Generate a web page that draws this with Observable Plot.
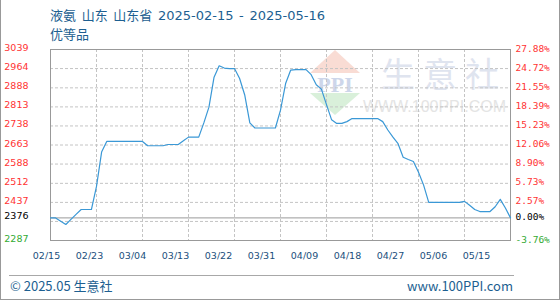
<!DOCTYPE html>
<html>
<head>
<meta charset="utf-8">
<script src="https://cdn.jsdelivr.net/npm/d3@7"></script>
<script src="https://cdn.jsdelivr.net/npm/@observablehq/plot@0.6"></script>
<style>
  html, body { margin: 0; padding: 0; background: #fff; }
  #wrap { position: relative; width: 560px; height: 300px; overflow: hidden; }
  #box { position: absolute; left: 0; top: 0; width: 558px; height: 299px;
         border: 1px solid #999; border-top: none; }
  .title { position: absolute; left: 50px; font-family: "DejaVu Sans", "Noto Sans CJK SC", sans-serif;
           font-size: 13px; color: #1d5f91; white-space: nowrap; line-height: 16px; word-spacing: 1.5px; }
  #foot-rule { position: absolute; left: 9px; top: 275px; width: 505px; height: 1px; background: #a8a8a8; }
  .foot { position: absolute; top: 277px; font-family: "Noto Sans CJK SC", sans-serif;
          font-size: 13px; color: #1d5f91; line-height: 18px; white-space: nowrap; }
  #mark, #chart { position: absolute; left: 0; top: 0; }
</style>
</head>
<body>
<div id="wrap">
  <div id="box"></div>
  <svg id="mark" width="560" height="300" viewBox="0 0 560 300">
    <!-- faint company watermark behind the plot -->
    <polygon points="335,50 310,73 360,73" fill="#f9dcd4"/>
    <text x="335" y="92" text-anchor="middle" font-family="Liberation Serif" font-size="22" font-weight="bold" fill="#cdd6ea">PPI</text>
    <polygon points="310,93 360,93 335,115" fill="#d9f0da"/>
    <text x="507" y="87" text-anchor="end" font-family="Noto Sans CJK SC" font-size="34" fill="#dfe4ef" letter-spacing="8">生意社</text>
    <text x="506" y="112" text-anchor="end" font-family="Liberation Sans" font-size="16" fill="#e4e4e4">WWW.100PPI.COM</text>
  </svg>
  <div id="chart"></div>
  <div class="title" style="top:8px">液氨 山东 山东省 2025-02-15 - 2025-05-16</div>
  <div class="title" style="top:27px">优等品</div>
  <div id="foot-rule"></div>
  <div class="foot" style="left:10px">© 2025.05 生意社</div>
  <div class="foot" style="right:47px">www.100PPI.com</div>
</div>
<script>
// Daily liquid ammonia price, Shandong, 2025-02-15 .. 2025-05-16 (yuan/ton)
const startDate = "2025-02-15";
const prices = [
  2376, 2376, 2363, 2350, 2370, 2390, 2409, 2409, 2409, 2500,
  2635, 2677, 2677, 2677, 2677, 2677, 2677, 2677, 2677, 2660,
  2660, 2660, 2660, 2665, 2665, 2665, 2680, 2694, 2694, 2694,
  2750, 2812, 2930, 2975, 2966, 2964, 2964, 2925, 2860, 2750,
  2730, 2730, 2730, 2730, 2730, 2800, 2905, 2958, 2960, 2960,
  2960, 2940, 2900, 2883, 2822, 2762, 2748, 2748, 2755, 2767,
  2767, 2767, 2767, 2767, 2767, 2755, 2722, 2694, 2668, 2615,
  2606, 2598, 2556, 2505, 2437, 2437, 2437, 2437, 2437, 2437,
  2437, 2441, 2426, 2409, 2401, 2401, 2401, 2420, 2449, 2415,
  2376
];

// Reference price for the percent axis
const basePrice = 2376;
const basePct = "0.00%";

// Axis extent
const yMin = 2287, yMax = 3039;
const yMinPct = "-3.76%";

// Tick labels above the reference price (left: price, right: change)
const upTicks = [3039, 2964, 2888, 2813, 2738, 2663, 2588, 2512, 2437];
const upPct = ["27.88%", "24.72%", "21.55%", "18.39%", "15.23%", "12.06%", "8.90%", "5.73%", "2.57%"];

// Horizontal dashed grid
const gridValues = [2362, 2437, 2512, 2588, 2663, 2738, 2813, 2888, 2964];

// Date labels along the bottom, and vertical grid every 9 days
const xLabels = ["02/15", "02/23", "03/04", "03/13", "03/22", "03/31", "04/09", "04/18", "04/27", "05/06", "05/15"];
const gridDays = [9, 18, 27, 36, 45, 54, 63, 72, 81];

const rows = prices.map((price, day) => ({day, price}));

const W = 560, H = 300, mL = 50, mR = 50, mT = 49, mB = 60;
const lastDay = prices.length - 1;
const pxPerDay = (W - mL - mR) / lastDay;
// date labels are spread evenly, 43px apart, starting just left of the frame
const xLabelPos = xLabels.map((_, i) => (-4 + 43 * i) / pxPerDay);

const red = "#ff3333", green = "#33aa33", ink = "#1a4f7c";

const chart = Plot.plot({
  width: W, height: H,
  marginLeft: mL, marginRight: mR, marginTop: mT, marginBottom: mB,
  x: {type: "linear", domain: [0, lastDay]},
  y: {domain: [yMin, yMax]},
  style: {background: "transparent", fontFamily: "DejaVu Sans", fontSize: "9.5px"},
  marks: [
    Plot.gridX(gridDays, {stroke: "#c4c4c4", strokeOpacity: 1, strokeDasharray: "3,2"}),
    Plot.gridY(gridValues, {stroke: "#c4c4c4", strokeOpacity: 1, strokeDasharray: "3,2"}),
    Plot.ruleY([basePrice], {stroke: "#999"}),
    Plot.frame({stroke: "#999"}),
    Plot.lineY(rows, {x: "day", y: "price", stroke: "#3a98d6", strokeWidth: 1.2}),
    Plot.axisX(xLabelPos, {
      tickSize: 0, tickPadding: 12, fill: ink, label: null,
      tickFormat: d => xLabels[xLabelPos.indexOf(d)]
    }),
    Plot.axisY(upTicks, {anchor: "left", tickSize: 0, tickPadding: 22, fill: red, label: null, dy: -1.5, tickFormat: d => String(d)}),
    Plot.axisY([basePrice], {anchor: "left", tickSize: 0, tickPadding: 22, fill: "#000", label: null, dy: -1.5, tickFormat: d => String(d)}),
    Plot.axisY([yMin], {anchor: "left", tickSize: 0, tickPadding: 22, fill: green, label: null, dy: -1.5, tickFormat: d => String(d)}),
    Plot.axisY(upTicks, {anchor: "right", tickSize: 0, tickPadding: 5, fill: red, label: null, dy: -1,
      fontFamily: "DejaVu Sans Mono", tickFormat: d => upPct[upTicks.indexOf(d)]}),
    Plot.axisY([basePrice], {anchor: "right", tickSize: 0, tickPadding: 5, fill: "#000", label: null, dy: -1,
      fontFamily: "DejaVu Sans Mono", tickFormat: () => basePct}),
    Plot.axisY([yMin], {anchor: "right", tickSize: 0, tickPadding: 5, fill: green, label: null, dy: -1,
      fontFamily: "DejaVu Sans Mono", tickFormat: () => yMinPct})
  ]
});
document.getElementById("chart").appendChild(chart);
</script>
</body>
</html>
